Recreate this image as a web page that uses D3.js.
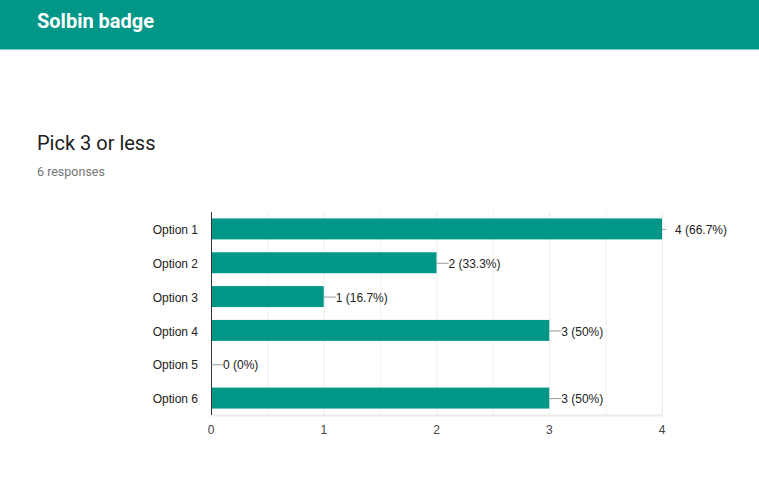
<!DOCTYPE html>
<html><head><meta charset="utf-8">
<script src="https://cdn.jsdelivr.net/npm/d3@7/dist/d3.min.js"></script>
<style>
html,body{margin:0;padding:0;background:#fff;}
svg{display:block;}
</style></head>
<body>
<svg id="chart" width="759" height="489"></svg>
<script>
const categories = ["Option 1","Option 2","Option 3","Option 4","Option 5","Option 6"];
const counts = [4,2,1,3,0,3];
const labels = ["4 (66.7%)","2 (33.3%)","1 (16.7%)","3 (50%)","0 (0%)","3 (50%)"];
const xTicks = [0,1,2,3,4];
const headerTitle = "Solbin badge";
const question = "Pick 3 or less";
const responses = "6 responses";

(function(){
const svg = d3.select("#chart");
const W = 759, H = 489;

svg.append("rect").attr("x",0).attr("y",0).attr("width",W).attr("height",49.5).attr("fill","#009688");
svg.append("text").attr("x",37).attr("y",28).attr("fill","#fff")
  .attr("font-family","Roboto, Arial, sans-serif").attr("font-weight","bold").attr("font-size",20).text(headerTitle);
svg.append("text").attr("x",37).attr("y",150).attr("fill","#212121")
  .attr("font-family","Roboto, Arial, sans-serif").attr("font-size",20).text(question);
svg.append("text").attr("x",37).attr("y",176).attr("fill","#757575")
  .attr("font-family","Roboto, Arial, sans-serif").attr("font-size",12.5).text(responses);

const pl = 211, pr = 662, pt = 212, pb = 415;
const x = d3.scaleLinear().domain([0,4]).range([pl,pr]);
const y = d3.scaleBand().domain(categories).range([pt,pb]).paddingInner(0.38).paddingOuter(0.19);

const g = svg.append("g").attr("font-family","Arial, 'Liberation Sans', sans-serif");

const grid = d3.range(0.5,4.01,0.5);
g.selectAll(".grid").data(grid).join("line")
  .attr("x1",d=>x(d)+0.5).attr("x2",d=>x(d)+0.5).attr("y1",pt).attr("y2",pb)
  .attr("stroke",d=>Number.isInteger(d)?"#ebebeb":"#f2f2f2").attr("stroke-width",1);
g.append("line").attr("x1",pl).attr("x2",pr+1).attr("y1",pb+0.5).attr("y2",pb+0.5)
  .attr("stroke","#ebebeb").attr("stroke-width",2);

g.selectAll(".bar").data(categories).join("rect")
  .attr("x",x(0)).attr("y",(d)=>y(d)).attr("height",y.bandwidth())
  .attr("width",(d,i)=>x(counts[i])-x(0)).attr("fill","#009688");

g.append("line").attr("x1",pl+0.5).attr("x2",pl+0.5).attr("y1",pt).attr("y2",pb)
  .attr("stroke","#333").attr("stroke-width",1);

g.selectAll(".ylab").data(categories).join("text")
  .attr("x",198).attr("y",d=>y(d)+y.bandwidth()/2+1).attr("dy","0.35em")
  .attr("text-anchor","end").attr("font-size",12).attr("fill","#222").text(d=>d);

g.selectAll(".xlab").data(xTicks).join("text")
  .attr("x",d=>x(d)).attr("y",434).attr("text-anchor","middle")
  .attr("font-size",12).attr("fill","#444").text(d=>d);

categories.forEach((c,i)=>{
  const ex = x(counts[i]);
  const cy = y(c)+y.bandwidth()/2;
  const isMax = counts[i]===4;
  const lx = isMax ? ex+10 : ex+12;
  g.append("line").attr("x1",ex).attr("x2",isMax?ex+4:lx).attr("y1",cy+0.5).attr("y2",cy+0.5)
    .attr("stroke","#999").attr("stroke-width",1);
  g.append("text").attr("x",isMax?ex+13:lx).attr("y",cy+1).attr("dy","0.35em")
    .attr("font-size",12).attr("fill","#222").text(labels[i]);
});
})();
</script>
</body></html>
